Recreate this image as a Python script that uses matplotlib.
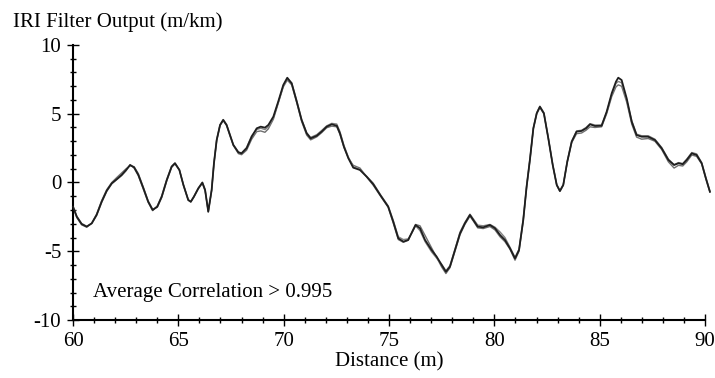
import matplotlib
matplotlib.use("Agg")
import matplotlib.pyplot as plt
from matplotlib.ticker import MultipleLocator

# distance (m) sample points
dist = [60.0, 60.18, 60.41, 60.65, 60.89, 61.12, 61.36, 61.6, 61.84, 62.07,
        62.31, 62.52, 62.71, 62.9, 63.1, 63.34, 63.57, 63.78, 64.0, 64.21,
        64.45, 64.68, 64.84, 65.05, 65.24, 65.47, 65.59, 65.74, 65.95, 66.14,
        66.27, 66.42, 66.58, 66.69, 66.82, 66.98, 67.13, 67.29, 67.45, 67.61,
        67.85, 68.0, 68.24, 68.48, 68.72, 68.91, 69.11, 69.27, 69.51, 69.74,
        69.98, 70.17, 70.38, 70.62, 70.85, 71.09, 71.28, 71.57, 71.8, 72.04,
        72.28, 72.52, 72.67, 72.86, 73.07, 73.3, 73.62, 73.94, 74.25, 74.6,
        74.96, 75.2, 75.44, 75.68, 75.91, 76.1, 76.26, 76.47, 76.71, 77.02,
        77.26, 77.5, 77.7, 77.89, 78.13, 78.37, 78.6, 78.84, 79.0, 79.21,
        79.47, 79.79, 80.03, 80.27, 80.5, 80.74, 80.98, 81.17, 81.37, 81.53,
        81.69, 81.85, 82.01, 82.16, 82.35, 82.56, 82.77, 82.96, 83.11, 83.27,
        83.46, 83.67, 83.9, 84.14, 84.35, 84.54, 84.77, 85.09, 85.33, 85.57,
        85.77, 85.88, 86.04, 86.28, 86.52, 86.75, 86.99, 87.3, 87.62, 87.94,
        88.26, 88.53, 88.74, 88.94, 89.13, 89.37, 89.6, 89.84, 90.04, 90.23]

# reference profile (black)
iri_ref = [-1.76, -2.49, -3.02, -3.21, -2.97, -2.36, -1.40, -0.60, -0.06, 0.23,
           0.55, 0.91, 1.27, 1.10, 0.55, -0.42, -1.40, -2.00, -1.76, -1.03,
           0.18, 1.15, 1.40, 0.91, -0.18, -1.27, -1.40, -1.03, -0.42, -0.01,
           -0.55, -2.12, -0.55, 1.40, 3.09, 4.18, 4.55, 4.18, 3.45, 2.73,
           2.19, 2.12, 2.49, 3.33, 3.94, 4.06, 3.99, 4.18, 4.79, 5.88,
           7.09, 7.62, 7.21, 5.88, 4.55, 3.58, 3.21, 3.40, 3.70, 4.06,
           4.23, 4.13, 3.58, 2.60, 1.76, 1.08, 0.91, 0.42, -0.12, -0.95,
           -1.76, -2.85, -4.06, -4.30, -4.18, -3.58, -3.09, -3.33, -4.18, -4.91,
           -5.39, -6.00, -6.49, -6.12, -4.91, -3.70, -2.97, -2.36, -2.73, -3.21,
           -3.26, -3.09, -3.33, -3.82, -4.18, -4.79, -5.52, -4.91, -2.73, -0.30,
           1.70, 3.94, 5.03, 5.51, 5.03, 3.21, 1.27, -0.18, -0.62, -0.18,
           1.51, 2.97, 3.70, 3.75, 3.94, 4.23, 4.11, 4.13, 5.15, 6.49,
           7.33, 7.62, 7.45, 6.12, 4.42, 3.45, 3.33, 3.33, 3.09, 2.49,
           1.64, 1.27, 1.40, 1.33, 1.64, 2.12, 2.00, 1.40, 0.30, -0.67]

# repeat runs (grey)
iri_run1 = [-1.80, -2.55, -3.08, -3.25, -2.95, -2.30, -1.32, -0.52, 0.00, 0.35,
            0.70, 1.00, 1.22, 1.15, 0.65, -0.35, -1.35, -1.95, -1.80, -1.10,
            0.12, 1.10, 1.35, 0.90, -0.15, -1.25, -1.42, -1.05, -0.45, -0.05,
            -0.60, -2.08, -0.60, 1.35, 3.05, 4.15, 4.50, 4.15, 3.40, 2.70,
            2.10, 2.02, 2.35, 3.15, 3.70, 3.75, 3.65, 3.90, 4.60, 5.75,
            6.95, 7.45, 7.10, 5.80, 4.45, 3.45, 3.10, 3.32, 3.62, 3.98,
            4.10, 4.05, 3.50, 2.55, 1.78, 1.25, 1.05, 0.40, -0.20, -1.00,
            -1.80, -2.95, -4.15, -4.35, -4.20, -3.55, -3.05, -3.15, -3.85, -4.75,
            -5.45, -6.15, -6.62, -6.20, -5.00, -3.80, -3.05, -2.45, -2.80, -3.30,
            -3.35, -3.20, -3.45, -3.95, -4.30, -4.85, -5.65, -5.00, -2.80, -0.35,
            1.65, 3.90, 5.00, 5.45, 5.00, 3.20, 1.25, -0.20, -0.65, -0.20,
            1.48, 2.90, 3.55, 3.60, 3.80, 4.05, 4.00, 4.05, 5.00, 6.25,
            6.95, 7.10, 7.00, 5.85, 4.25, 3.30, 3.15, 3.20, 3.00, 2.40,
            1.50, 1.05, 1.25, 1.20, 1.50, 2.00, 1.90, 1.35, 0.25, -0.70]
iri_run2 = [-1.72, -2.45, -2.98, -3.18, -2.98, -2.40, -1.45, -0.65, -0.10, 0.20,
            0.50, 0.85, 1.30, 1.05, 0.50, -0.50, -1.45, -2.05, -1.70, -0.98,
            0.22, 1.18, 1.42, 0.92, -0.20, -1.30, -1.38, -1.00, -0.40, 0.02,
            -0.50, -2.15, -0.50, 1.45, 3.12, 4.20, 4.58, 4.22, 3.48, 2.75,
            2.22, 2.15, 2.55, 3.40, 3.85, 3.95, 3.85, 4.05, 4.70, 5.82,
            7.00, 7.55, 7.25, 5.95, 4.60, 3.62, 3.28, 3.48, 3.78, 4.12,
            4.30, 4.25, 3.70, 2.70, 1.85, 1.15, 0.95, 0.45, -0.05, -0.90,
            -1.70, -2.75, -3.95, -4.15, -4.10, -3.62, -3.15, -3.50, -4.30, -5.05,
            -5.50, -5.95, -6.42, -6.05, -4.85, -3.60, -2.90, -2.30, -2.65, -3.10,
            -3.15, -3.05, -3.25, -3.60, -4.00, -4.70, -5.45, -4.85, -2.65, -0.25,
            1.75, 3.98, 5.08, 5.55, 5.08, 3.25, 1.30, -0.15, -0.58, -0.15,
            1.55, 3.00, 3.75, 3.80, 4.00, 4.28, 4.18, 4.18, 5.10, 6.40,
            7.20, 7.35, 7.25, 6.00, 4.50, 3.52, 3.40, 3.40, 3.15, 2.55,
            1.70, 1.30, 1.45, 1.38, 1.70, 2.18, 2.08, 1.45, 0.35, -0.62]

plt.rcParams["font.family"] = ["Liberation Serif", "DejaVu Serif"]
plt.rcParams["axes.unicode_minus"] = False

fig = plt.figure(figsize=(7.15, 3.78), dpi=100)
ax = fig.add_axes([0.1021, 0.1534, 0.884, 0.7276])

ax.plot(dist, iri_run1, color="#6e6e6e", lw=1.0, clip_on=False, zorder=2)
ax.plot(dist, iri_run2, color="#808080", lw=1.0, clip_on=False, zorder=2)
ax.plot(dist, iri_ref, color="#1e1e1e", lw=1.3, clip_on=False, zorder=3)

ax.set_xlim(60, 90)
ax.set_ylim(-10, 10)
ax.xaxis.set_major_locator(MultipleLocator(5))
ax.xaxis.set_minor_locator(MultipleLocator(1))
ax.yaxis.set_major_locator(MultipleLocator(5))
ax.yaxis.set_minor_locator(MultipleLocator(1))

for s in ("top", "right"):
    ax.spines[s].set_visible(False)
for s in ("left", "bottom"):
    ax.spines[s].set_linewidth(1.5)

ax.tick_params(which="major", direction="inout", length=9, width=1.0,
               labelsize=15, pad=4)
ax.tick_params(which="minor", direction="inout", length=5, width=1.0)
ax.tick_params(axis="x", which="major", pad=4)

ax.set_xlabel("Distance (m)", fontsize=15, labelpad=1)
fig.text(0.018, 0.928, "IRI Filter Output (m/km)", fontsize=15,
         ha="left", va="baseline")
ax.text(60.95, -8.35, "Average Correlation > 0.995", fontsize=15,
        ha="left", va="baseline")

fig.savefig("out.png", dpi=100)
